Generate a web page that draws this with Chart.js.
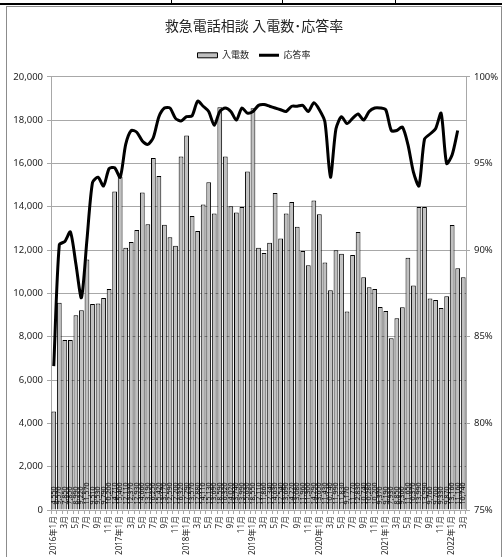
<!DOCTYPE html>
<html>
<head>
<meta charset="utf-8">
<script src="https://cdn.jsdelivr.net/npm/chart.js@4.4.1/dist/chart.umd.min.js"></script>
<style>
    html, body { margin: 0; padding: 0; background: #fff; }
    body { width: 502px; height: 557px; position: relative; overflow: hidden; }
    #table { position: absolute; left: 0; top: 0; width: 502px; height: 3px; border-bottom: 2px solid #000; display: flex; }
    #table div { height: 3px; border-right: 1px solid #000; box-sizing: border-box; }
    #frame { position: absolute; left: 6px; top: 6px; width: 496px; height: 560px; border: 1px solid #8c8c8c; box-sizing: border-box; }
    #wrap { position: absolute; left: 7px; top: 7px; width: 494px; height: 550px; }
</style>
</head>
<body>
<div id="table"><div style="width:172px"></div><div style="width:111px"></div><div style="width:113px"></div><div style="width:106px;border:none"></div></div>
<div id="frame"></div>
<div id="wrap"><canvas id="graph-calls"></canvas></div>
<script>
// 2016年1月 ～ 2022年3月
const months = [
    '2016年1月', '2月', '3月', '4月', '5月', '6月', '7月', '8月', '9月', '10月', '11月', '12月',
    '2017年1月', '2月', '3月', '4月', '5月', '6月', '7月', '8月', '9月', '10月', '11月', '12月',
    '2018年1月', '2月', '3月', '4月', '5月', '6月', '7月', '8月', '9月', '10月', '11月', '12月',
    '2019年1月', '2月', '3月', '4月', '5月', '6月', '7月', '8月', '9月', '10月', '11月', '12月',
    '2020年1月', '2月', '3月', '4月', '5月', '6月', '7月', '8月', '9月', '10月', '11月', '12月',
    '2021年1月', '2月', '3月', '4月', '5月', '6月', '7月', '8月', '9月', '10月', '11月', '12月',
    '2022年1月', '2月', '3月'
];

// 入電数
const calls = [
    4550, 9570, 7850, 7850, 8990, 9220, 11570, 9510, 9530, 9790, 10200, 14710,
    15400, 12110, 12370, 12930, 14660, 13190, 16250, 15420, 13170, 12590, 12200, 16320,
    17290, 13570, 12880, 14110, 15130, 13690, 18590, 16320, 14020, 13740, 13990, 15630,
    18550, 12110, 11860, 12340, 14630, 12540, 13690, 14220, 13080, 11960, 11300, 14290,
    13650, 11430, 10140, 11990, 11830, 9170, 11770, 12830, 10740, 10280, 10200, 9370,
    9190, 7930, 8850, 9360, 11650, 10370, 13990, 13990, 9760, 9700, 9330, 9870,
    13160, 11160, 10740
];

// 応答率 (%)
const answerRate = [
    83.3, 90.3, 90.5, 91.05, 89.2, 87.25, 90.6, 93.9, 94.2, 93.7, 94.7, 94.75,
    94.2, 96.1, 96.9, 96.8, 96.3, 96.1, 96.5, 97.7, 98.2, 98.2, 97.6, 97.45,
    97.7, 97.75, 98.6, 98.3, 98.0, 97.2, 98.0, 98.2, 98.0, 97.5, 98.2, 97.9,
    98.0, 98.35, 98.4, 98.3, 98.2, 98.1, 98.0, 98.3, 98.3, 98.35, 98.0, 98.5,
    98.1, 97.4, 94.2, 97.0, 97.7, 97.3, 97.6, 97.85, 97.5, 98.0, 98.2, 98.2,
    98.1, 96.9, 96.9, 97.1, 96.1, 94.5, 93.7, 96.4, 96.7, 97.0, 97.9, 95.0,
    95.5, 96.9, null
];

const leftTicks = [0, 20000, 2000];
const rightTicks = [75, 100, 5];

const fontFamily = "'Noto Sans', 'Noto Sans CJK JP', sans-serif";
const gridColor = '#a8a8a8';

// 棒の根元に縦書きの数値ラベル
const barValueLabels = {
    id: 'barValueLabels',
    afterDatasetsDraw(chart) {
        const meta = chart.getDatasetMeta(0);
        const ctx = chart.ctx;
        ctx.save();
        ctx.font = '7px ' + fontFamily;
        ctx.fillStyle = '#000';
        ctx.textAlign = 'left';
        ctx.textBaseline = 'middle';
        meta.data.forEach((bar, i) => {
            ctx.save();
            ctx.translate(bar.x, bar.base - 5);
            ctx.rotate(-Math.PI / 2);
            ctx.fillText(calls[i].toLocaleString('en-US'), 0, 0);
            ctx.restore();
        });
        ctx.restore();
    }
};

// 凡例の下に余白を足す
const legendGap = {
    id: 'legendGap',
    beforeLayout(chart) {
        const legend = chart.legend;
        if (legend && !legend._gapPatched) {
            const fit = legend.fit;
            legend.fit = function () {
                fit.call(this);
                this.height += 7;
            };
            legend._gapPatched = true;
        }
    }
};

const config = {
    data: {
        labels: months,
        datasets: [{
            type: 'bar',
            label: '入電数',
            data: calls,
            backgroundColor: '#c0c0c0',
            borderColor: '#000',
            borderWidth: 1,
            barPercentage: 0.86,
            categoryPercentage: 1,
            yAxisID: 'y',
            order: 1
        }, {
            type: 'line',
            label: '応答率',
            data: answerRate,
            borderColor: '#000',
            backgroundColor: '#000',
            borderWidth: 3,
            pointRadius: 0,
            tension: 0.25,
            yAxisID: 'y1',
            order: 0
        }]
    },
    options: {
        responsive: true,
        maintainAspectRatio: false,
        animation: false,
        layout: {padding: {left: 0, right: 0, top: 0, bottom: 0}},
        plugins: {
            title: {
                display: true,
                text: '救急電話相談 入電数･応答率',
                color: '#222',
                font: {family: fontFamily, size: 14, weight: 'normal'},
                padding: {top: 12, bottom: 5}
            },
            legend: {
                display: true,
                labels: {
                    color: '#222',
                    font: {family: fontFamily, size: 9},
                    usePointStyle: true,
                    pointStyleWidth: 20,
                    boxHeight: 5,
                    padding: 10,
                    sort: (a, b) => a.datasetIndex - b.datasetIndex,
                    generateLabels(chart) {
                        const items = Chart.defaults.plugins.legend.labels.generateLabels(chart);
                        items.forEach(item => {
                            if (item.datasetIndex === 0) {
                                item.pointStyle = 'rect';
                                item.fillStyle = '#c0c0c0';
                                item.strokeStyle = '#000';
                                item.lineWidth = 1;
                            } else {
                                item.pointStyle = 'line';
                                item.strokeStyle = '#000';
                                item.lineWidth = 3;
                            }
                        });
                        return items;
                    }
                }
            },
            tooltip: {enabled: false}
        },
        scales: {
            x: {
                grid: {display: true, drawOnChartArea: false, drawTicks: true, tickLength: 4, color: gridColor},
                border: {color: gridColor},
                ticks: {
                    autoSkip: false,
                    maxRotation: 90,
                    minRotation: 90,
                    padding: 2,
                    color: '#222',
                    font: {family: fontFamily, size: 8},
                    callback: function (value, index) {
                        return index % 2 === 0 ? months[index] : '';
                    }
                },
                afterFit(scale) { scale.height = 47; }
            },
            y: {
                position: 'left',
                min: leftTicks[0],
                max: leftTicks[1],
                grid: {color: gridColor, tickLength: 4},
                border: {color: gridColor},
                ticks: {
                    stepSize: leftTicks[2],
                    padding: 4,
                    color: '#222',
                    font: {family: fontFamily, size: 9.5},
                    callback: value => value.toLocaleString('en-US')
                },
                afterFit(scale) { scale.width = 44; }
            },
            y1: {
                position: 'right',
                min: rightTicks[0],
                max: rightTicks[1],
                grid: {drawOnChartArea: false, color: gridColor, tickLength: 4},
                border: {color: gridColor},
                ticks: {
                    stepSize: rightTicks[2],
                    padding: 4,
                    color: '#222',
                    font: {family: fontFamily, size: 9.5},
                    callback: value => value + '%'
                },
                afterFit(scale) { scale.width = 35; }
            }
        }
    },
    plugins: [barValueLabels, legendGap]
};

const chartCalls = new Chart(document.getElementById('graph-calls'), config);
</script>
</body>
</html>
